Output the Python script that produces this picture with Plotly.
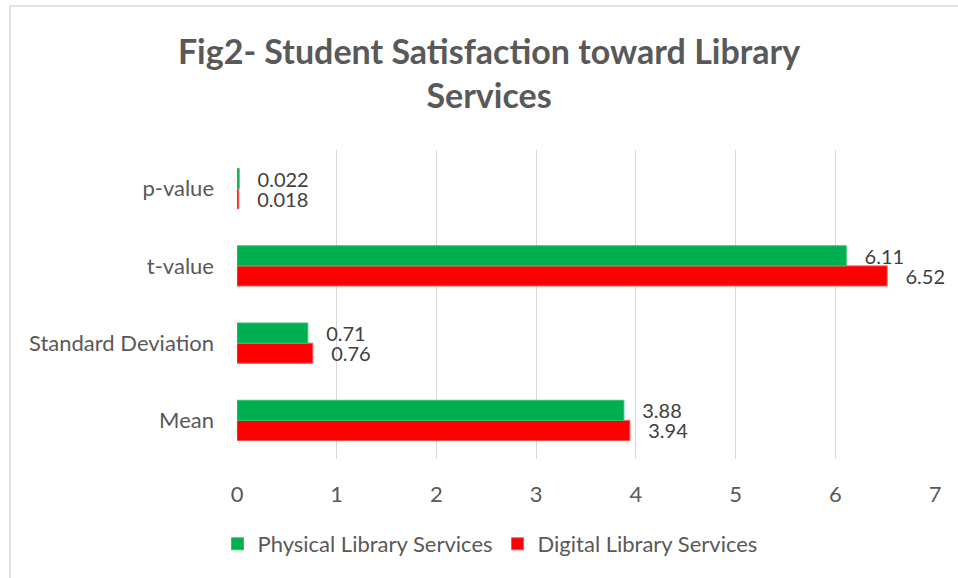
import plotly.graph_objects as go

categories = ["Mean", "Standard Deviation", "t-value", "p-value"]
physical = [3.88, 0.71, 6.11, 0.022]
digital = [3.94, 0.76, 6.52, 0.018]
physical_labels = ["3.88", "0.71", "6.11", "0.022"]
digital_labels = ["3.94", "0.76", "6.52", "0.018"]
x_ticks = [0, 1, 2, 3, 4, 5, 6, 7]

FONT = "Lato, 'Open Sans', sans-serif"
PAD = "\u00a0\u00a0\u00a0"

fig = go.Figure()
fig.add_trace(go.Bar(
    y=categories, x=digital, orientation="h", name="Digital Library Services",
    marker=dict(color="#ff0000", line=dict(color="#ff5050", width=1)),
    text=[PAD + t for t in digital_labels], textposition="outside",
    textfont=dict(size=20, color="#404040", family=FONT),
    cliponaxis=False, constraintext="none",
))
fig.add_trace(go.Bar(
    y=categories, x=physical, orientation="h", name="Physical Library Services",
    marker=dict(color="#00b050", line=dict(color="#30c070", width=1)),
    text=[PAD + t for t in physical_labels], textposition="outside",
    textfont=dict(size=20, color="#404040", family=FONT),
    cliponaxis=False, constraintext="none",
))

L, R, T, B = 237, 23, 150, 119
W, H = 958, 578
pw, ph = W - L - R, H - T - B

fig.update_layout(
    width=W, height=H,
    margin=dict(l=L, r=R, t=T, b=B, autoexpand=False),
    paper_bgcolor="white", plot_bgcolor="white",
    barmode="group", bargap=0.48, bargroupgap=0,
    font=dict(family=FONT, color="#595959", size=22),
    title=dict(
        text="<b>Fig2- Student Satisfaction toward Library<br>Services</b>",
        x=489 / W, xanchor="center", xref="container",
        y=1 - 64 / H, yanchor="top", yref="container",
        font=dict(size=34, color="#595959", family=FONT),
    ),
    xaxis=dict(
        range=[0, 7], tickvals=x_ticks, showgrid=True, gridcolor="#d9d9d9", gridwidth=1.3,
        zeroline=False, showline=False, ticks="", ticklabelstandoff=20,
        tickfont=dict(size=22, color="#595959"),
    ),
    yaxis=dict(
        categoryorder="array", categoryarray=categories, showgrid=False, zeroline=False,
        showline=False, ticks="", ticklabelstandoff=22,
        tickfont=dict(size=22, color="#595959"),
    ),
    legend=dict(
        orientation="h", traceorder="reversed", x=(490 - L) / pw, xanchor="center",
        y=(ph - (544 - T)) / ph, yanchor="middle", font=dict(size=22, color="#595959"),
        itemwidth=30,
    ),
    showlegend=True,
)

# chart frame (left and top edges)
fx0 = (10 - L) / pw
fy1 = (H - B - 6) / ph
fig.add_shape(type="line", xref="paper", yref="paper", x0=fx0, x1=fx0, y0=-1, y1=fy1,
              line=dict(color="#d9d9d9", width=1.5))
fig.add_shape(type="line", xref="paper", yref="paper", x0=fx0, x1=2, y0=fy1, y1=fy1,
              line=dict(color="#d9d9d9", width=1.5))

fig.write_html("out.html", config={"displayModeBar": False},
               post_script="document.body.style.margin='0';document.body.style.overflow='hidden';")
